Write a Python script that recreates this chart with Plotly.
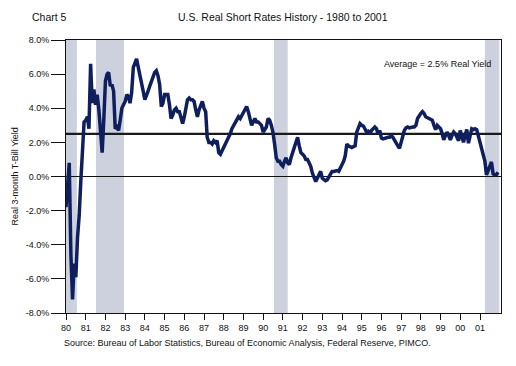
import plotly.graph_objects as go
import pandas as pd

# Real 3-month T-Bill yield (%), monthly, Jan 1980 - Dec 2001
y1980 = [-1.8, -0.3, 0.8, -4.6, -7.2, -5.1, -5.9, -3.6, -2.3, -0.3, 1.7, 3.2]
y1981 = [3.3, 3.5, 2.8, 6.6, 4.3, 5.1, 4.2, 4.8, 3.9, 2.8, 1.4, 3.3]
y1982 = [5.6, 6.0, 6.1, 5.3, 5.4, 5.0, 2.8, 2.9, 2.7, 3.3, 4.0, 4.2]
y1983 = [4.4, 4.8, 4.7, 4.3, 4.9, 6.4, 6.7, 6.9, 6.4, 6.0, 5.5, 5.0]
y1984 = [4.5, 4.7, 5.0, 5.3, 5.6, 5.9, 6.1, 6.2, 5.9, 5.4, 4.1, 4.3]
y1985 = [4.8, 4.8, 4.8, 4.2, 3.4, 3.6, 3.9, 4.0, 3.8, 3.8, 3.4, 3.1]
y1986 = [3.5, 4.0, 4.5, 4.6, 4.5, 4.5, 4.4, 3.9, 3.5, 3.9, 4.2, 4.4]
y1987 = [4.0, 3.8, 2.3, 2.0, 2.0, 1.9, 2.1, 2.0, 2.1, 1.4, 1.3, 1.5]
y1988 = [1.7, 1.8, 2.0, 2.3, 2.5, 2.8, 3.0, 3.1, 3.3, 3.5, 3.4, 3.6]
y1989 = [3.8, 4.0, 4.1, 3.8, 3.4, 3.0, 3.2, 3.4, 3.2, 3.2, 3.1, 3.0]
y1990 = [2.6, 2.8, 2.9, 3.4, 3.3, 3.0, 2.6, 1.9, 1.1, 0.9, 0.9, 0.7]
y1991 = [0.6, 0.9, 1.1, 0.8, 0.7, 1.1, 1.4, 1.7, 2.1, 2.3, 1.8, 1.4]
y1992 = [1.3, 1.2, 1.0, 1.0, 0.8, 0.6, 0.2, 0.0, -0.3, -0.1, 0.1, 0.3]
y1993 = [-0.1, -0.2, -0.25, -0.2, -0.05, 0.1, 0.3, 0.3, 0.35, 0.35, 0.3, 0.5]
y1994 = [0.6, 0.9, 1.2, 1.9, 1.8, 1.75, 1.7, 1.75, 1.8, 2.6, 2.9, 3.1]
y1995 = [3.0, 2.95, 2.8, 2.6, 2.65, 2.5, 2.7, 2.8, 2.9, 2.8, 2.5, 2.7]
y1996 = [2.25, 2.2, 2.25, 2.25, 2.3, 2.3, 2.4, 2.3, 2.1, 2.0, 1.8, 1.65]
y1997 = [2.0, 2.3, 2.7, 2.85, 2.9, 2.85, 2.9, 2.9, 2.9, 3.0, 3.4, 3.6]
y1998 = [3.7, 3.8, 3.7, 3.5, 3.45, 3.4, 3.35, 3.3, 3.0, 2.75, 3.0, 2.9]
y1999 = [2.8, 2.5, 2.15, 2.4, 2.6, 2.4, 2.15, 2.4, 2.6, 2.5, 2.3, 2.1]
y2000 = [2.7, 2.4, 2.0, 2.4, 2.75, 1.95, 2.4, 2.8, 2.75, 2.8, 2.75, 2.35]
y2001 = [1.9, 1.5, 1.3, 0.9, 0.1, 0.3, 0.6, 0.85, 0.15, 0.1, 0.1, 0.25]

years = [y1980, y1981, y1982, y1983, y1984, y1985, y1986, y1987, y1988, y1989, y1990,
         y1991, y1992, y1993, y1994, y1995, y1996, y1997, y1998, y1999, y2000, y2001]
values = [v for yr in years for v in yr]
dates = pd.date_range("1980-01-01", periods=len(values), freq="MS")

recessions = [("1980-01-01", "1980-07-20"), ("1981-07-10", "1982-12-10"),
              ("1990-07-20", "1991-04-01"), ("2001-04-01", "2001-12-25")]
average = 2.5

tick_years = list(range(1980, 2002))
tick_vals = [f"{y}-01-01" for y in tick_years]
tick_text = [str(y)[2:] for y in tick_years]
y_vals = [-8, -6, -4, -2, 0, 2, 4, 6, 8]
y_text = [f"{v:.1f}%" for v in y_vals]

FONT = "Arial, Liberation Sans, sans-serif"
fig = go.Figure()

for x0, x1 in recessions:
    fig.add_shape(type="rect", xref="x", yref="paper", x0=x0, x1=x1, y0=0, y1=1,
                  fillcolor="#cdd1de", line_width=0, layer="below")
fig.add_shape(type="line", xref="paper", yref="y", x0=0, x1=1, y0=0, y1=0,
              line=dict(color="#111111", width=1), layer="below")
fig.add_shape(type="line", xref="paper", yref="y", x0=0, x1=1, y0=average, y1=average,
              line=dict(color="#1a1a1a", width=2.2), layer="below")

fig.add_trace(go.Scatter(x=dates, y=values, mode="lines",
                         line=dict(color="#0f1f5e", width=3.5), hoverinfo="skip"))

fig.update_layout(
    width=508, height=358,
    margin=dict(l=58, r=15, t=32, b=53),
    paper_bgcolor="white", plot_bgcolor="white",
    showlegend=False,
    font=dict(family=FONT, size=9, color="#111111"),
    xaxis=dict(type="date", range=["1980-01-01", "2002-01-25"],
               tickmode="array", tickvals=tick_vals, ticktext=tick_text,
               ticks="outside", ticklen=6, tickcolor="#111111",
               showgrid=False, zeroline=False,
               showline=True, linecolor="#111111", linewidth=1, mirror=True,
               tickfont=dict(size=9)),
    yaxis=dict(range=[-8, 8], tickmode="array", tickvals=y_vals, ticktext=y_text,
               ticks="outside", ticklen=14, tickcolor="#111111",
               showgrid=False, zeroline=False,
               showline=True, linecolor="#111111", linewidth=1, mirror=True,
               tickfont=dict(size=9)),
)

fig.add_annotation(text="Chart 5", xref="paper", yref="paper", x=-0.083, y=1.084,
                   xanchor="left", yanchor="middle", showarrow=False,
                   font=dict(size=10.5))
fig.add_annotation(text="U.S. Real Short Rates History - 1980 to 2001", xref="paper",
                   yref="paper", x=0.499, y=1.084, xanchor="center", yanchor="middle",
                   showarrow=False, font=dict(size=10.5))
fig.add_annotation(text="Real 3-month T-Bill Yield", xref="paper", yref="paper",
                   x=-0.1195, y=0.5, textangle=-90, xanchor="center", yanchor="middle",
                   showarrow=False, font=dict(size=9))
fig.add_annotation(text="Average = 2.5% Real Yield", xref="paper", yref="paper",
                   x=0.9816, y=0.912, xanchor="right", yanchor="middle",
                   showarrow=False, font=dict(size=9))
fig.add_annotation(text="Source: Bureau of Labor Statistics, Bureau of Economic Analysis, Federal Reserve, PIMCO.",
                   xref="paper", yref="paper", x=-0.0092, y=-0.11,
                   xanchor="left", yanchor="middle", showarrow=False,
                   font=dict(size=9))

fig.write_html("out.html")
